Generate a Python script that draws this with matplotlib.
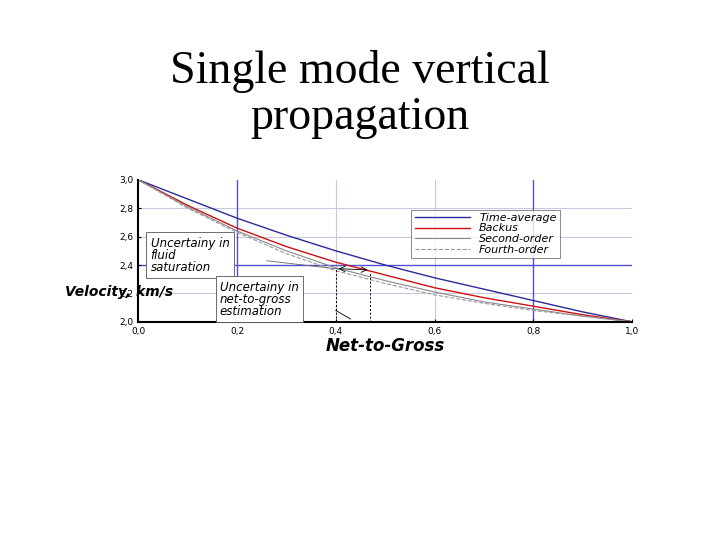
import matplotlib
matplotlib.use("Agg")
import matplotlib.pyplot as plt

ntg = [0.0, 0.1, 0.2, 0.3, 0.4, 0.5, 0.6, 0.7, 0.8, 0.9, 1.0]
time_avg = [3.0, 2.865, 2.73, 2.61, 2.50, 2.40, 2.31, 2.23, 2.15, 2.07, 2.0]
backus = [3.0, 2.82, 2.66, 2.53, 2.42, 2.33, 2.24, 2.17, 2.11, 2.05, 2.0]
second = [3.0, 2.81, 2.64, 2.50, 2.38, 2.29, 2.21, 2.14, 2.09, 2.04, 2.0]
fourth = [3.0, 2.80, 2.63, 2.48, 2.36, 2.27, 2.19, 2.13, 2.08, 2.04, 2.0]
xticks = [0.0, 0.2, 0.4, 0.6, 0.8, 1.0]
xticklabels = ["0,0", "0,2", "0,4", "0,6", "0,8", "1,0"]
yticks = [2.0, 2.2, 2.4, 2.6, 2.8, 3.0]
yticklabels = ["2,0", "2,2", "2,4", "2,6", "2,8", "3,0"]

fig = plt.figure(figsize=(7.2, 5.4), dpi=100)
fig.text(0.5, 0.825, "Single mode vertical\npropagation", ha="center", va="center",
         family="Liberation Serif", fontsize=33, linespacing=1.1)

ax = fig.add_axes([0.192, 0.404, 0.686, 0.263])
ax.set_xlim(0, 1)
ax.set_ylim(2.0, 3.0)
for x in [0.4, 0.6]:
    ax.axvline(x, color="#c8c8e0", lw=0.8, zorder=0)
for y in [2.2, 2.6, 2.8]:
    ax.axhline(y, color="#c8c8e0", lw=0.8, zorder=0)
for x in [0.2, 0.8]:
    ax.axvline(x, color="#5050d0", lw=1.0, zorder=0)
ax.axhline(2.4, color="#5050d0", lw=1.0, zorder=0)

ax.plot(ntg, time_avg, color="#2a2a9a", lw=1.0, label="Time-average")
ax.plot(ntg, backus, color="#cc1111", lw=1.0, label="Backus")
ax.plot(ntg, second, color="#888888", lw=0.8, label="Second-order")
ax.plot(ntg, fourth, color="#999999", lw=0.8, ls="--", label="Fourth-order")

ax.plot([0.4, 0.4], [2.0, 2.37], color="black", lw=0.7, ls=(0, (2, 2)))
ax.plot([0.47, 0.47], [2.0, 2.35], color="black", lw=0.7, ls=(0, (2, 2)))
ax.annotate("", xy=(0.47, 2.365), xytext=(0.4, 2.375),
            arrowprops=dict(arrowstyle="<->", lw=0.6, color="black"))
ax.plot([0.26, 0.41], [2.43, 2.37], color="#666666", lw=0.6)
ax.plot([0.4, 0.43], [2.08, 2.02], color="black", lw=0.6)

bx = dict(boxstyle="square,pad=0.35", fc="white", ec="#555555", lw=0.6)
ax.text(0.025, 2.34, "Uncertainy in\nfluid\nsaturation", fontsize=8.5, style="italic",
        va="bottom", ha="left", bbox=bx, linespacing=0.9)
ax.text(0.165, 2.03, "Uncertainy in\nnet-to-gross\nestimation", fontsize=8.5, style="italic",
        va="bottom", ha="left", bbox=bx, linespacing=0.9, zorder=5)
fig.text(0.09, 0.46, "Velocity, km/s", fontsize=10, weight="bold", style="italic",
         va="center")

leg = ax.legend(loc="upper right", bbox_to_anchor=(0.865, 0.83),
                prop={"style": "italic", "size": 8}, frameon=True, fancybox=False,
                edgecolor="#555555", handlelength=5, borderpad=0.3, labelspacing=0.05)
leg.get_frame().set_linewidth(0.6)

ax.set_xticks(xticks)
ax.set_xticklabels(xticklabels, fontsize=6.5)
ax.set_yticks(yticks)
ax.set_yticklabels(yticklabels, fontsize=6.5)
ax.tick_params(direction="in", length=2)
for s in ["top", "right"]:
    ax.spines[s].set_visible(False)
ax.spines["left"].set_linewidth(1.5)
ax.spines["bottom"].set_linewidth(1.5)
ax.set_xlabel("Net-to-Gross", fontsize=12, weight="bold", style="italic", labelpad=1)

fig.savefig("out.png", dpi=100)
